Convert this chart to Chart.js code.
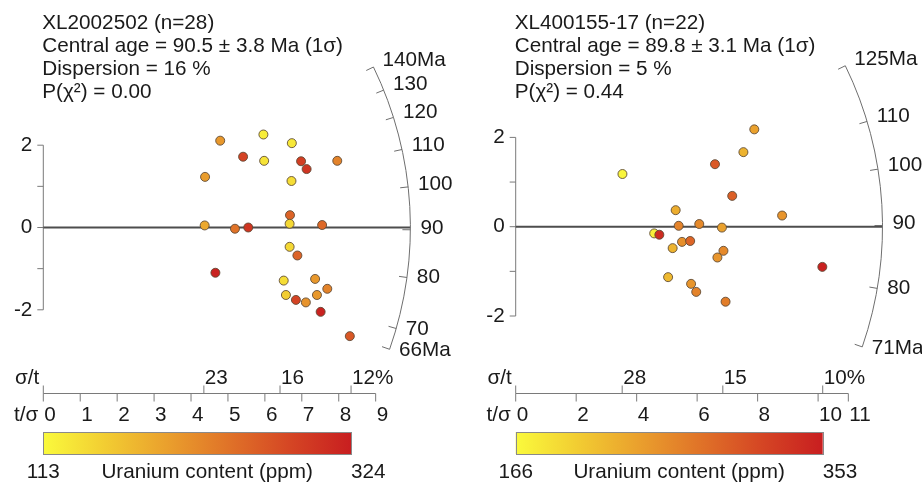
<!DOCTYPE html>
<html>
<head>
<meta charset="utf-8">
<script src="https://cdn.jsdelivr.net/npm/chart.js@4.4.0/dist/chart.umd.min.js"></script>
<style>
  html, body { margin: 0; padding: 0; background: #fff; }
  #wrap { display: flex; width: 922px; height: 485px; }
  canvas { display: block; }
</style>
</head>
<body>
<div id="wrap">
  <canvas id="left" width="461" height="485"></canvas>
  <canvas id="right" width="461" height="485"></canvas>
</div>
<script>
// --- sample XL2002502 ---
const leftTitle = ['XL2002502 (n=28)', 'Central age = 90.5 ± 3.8 Ma (1σ)', 'Dispersion = 16 %', 'P(χ²) = 0.00'];
const leftCentralAge = 90.5;
const leftPrecision = [5.96, 4.79, 6.73, 5.41, 5.98, 6.98, 7.96, 7.13, 4.38, 6.72, 6.68, 4.37, 6.67, 5.19,
  5.55, 7.55, 6.67, 6.88, 4.66, 6.51, 7.36, 7.69, 6.57, 7.41, 6.84, 7.11, 7.51, 8.30];
const leftStdEst = [2.26, 2.11, 2.05, 1.72, 1.62, 1.61, 1.62, 1.42, 1.23, 1.13, 0.30, 0.05, 0.09, -0.03,
  0.00, 0.06, -0.47, -0.68, -1.10, -1.29, -1.25, -1.49, -1.64, -1.64, -1.76, -1.82, -2.05, -2.64];
const leftUranium = [125, 205, 130, 285, 135, 290, 225, 300, 200, 140, 255, 190, 145, 240,
  300, 250, 145, 255, 320, 140, 205, 225, 155, 205, 285, 210, 320, 265];
const leftAgeTicks = [140, 130, 120, 110, 100, 90, 80, 70, 66];
const leftAgeLabels = ['140Ma', '130', '120', '110', '100', '90', '80', '70', '66Ma'];
const leftPrecTicks = [0, 1, 2, 3, 4, 5, 6, 7, 8, 9];
const leftRelErrTicks = [23, 15.6, 12];
const leftRelErrLabels = ['23', '16', '12%'];
const leftURange = [113, 324];

// --- sample XL400155-17 ---
const rightTitle = ['XL400155-17 (n=22)', 'Central age = 89.8 ± 3.1 Ma (1σ)', 'Dispersion = 5 %', 'P(χ²) = 0.44'];
const rightCentralAge = 89.8;
const rightPrecision = [7.89, 7.53, 6.59, 3.53, 7.16, 8.81, 5.29, 5.39, 6.07, 6.82, 4.58, 4.75, 5.50, 5.77,
  5.19, 6.87, 6.67, 10.14, 5.04, 5.80, 5.97, 6.94];
const rightStdEst = [2.18, 1.67, 1.40, 1.18, 0.69, 0.25, 0.37, 0.02, 0.06, -0.02, -0.15, -0.18, -0.34, -0.32,
  -0.48, -0.54, -0.69, -0.90, -1.13, -1.28, -1.46, -1.68];
const rightUranium = [240, 225, 300, 170, 295, 250, 230, 265, 260, 240, 175, 340, 255, 290,
  225, 260, 250, 350, 220, 250, 265, 270];
const rightAgeTicks = [125, 110, 100, 90, 80, 71];
const rightAgeLabels = ['125Ma', '110', '100', '90', '80', '71Ma'];
const rightPrecTicks = [0, 2, 4, 6, 8, 10, 11];
const rightRelErrTicks = [28.4, 14.6, 9.85];
const rightRelErrLabels = ['28', '15', '10%'];
const rightURange = [166, 353];

// shared standardised-estimate axis
const stdTicks = [-2, -1, 0, 1, 2];
const stdTickLabels = ['-2', '', '0', '', '2'];

const FONT = '20.7px "Liberation Sans", Arial, sans-serif';
const INK = '#1a1a1a';
const AXIS = '#7a7a7a';

// yellow -> red colour ramp for uranium content
const heatStops = [
  [0.00, [250, 250, 60]],
  [0.20, [242, 205, 50]],
  [0.40, [234, 160, 45]],
  [0.60, [224, 115, 40]],
  [0.80, [213, 70, 36]],
  [1.00, [200, 30, 32]]
];

function heatColor(u, range) {
  const f = Math.min(1, Math.max(0, (u - range[0]) / (range[1] - range[0])));
  for (let i = 1; i < heatStops.length; i++) {
    const [s1, c1] = heatStops[i];
    const [s0, c0] = heatStops[i - 1];
    if (f <= s1) {
      const t = (f - s0) / (s1 - s0);
      const c = c0.map((v, k) => Math.round(v + (c1[k] - v) * t));
      return `rgb(${c.join(',')})`;
    }
  }
  return 'rgb(200,30,32)';
}

// draws the radial-plot furniture (axes, age arc, header, colour bar)
function radialPlugin(p) {
  return {
    id: 'radial',
    beforeDatasetsDraw(chart) {
      const ctx = chart.ctx;
      const xs = chart.scales.x, ys = chart.scales.y;
      const ox = xs.getPixelForValue(0), oy = ys.getPixelForValue(0);
      const kx = xs.getPixelForValue(1) - ox;
      const R = xs.getPixelForValue(p.arcRadius) - ox;
      const ang = age => Math.atan2(ys.getPixelForValue(Math.log(age / p.centralAge)) - oy, kx);

      ctx.save();
      ctx.font = FONT;
      ctx.fillStyle = INK;
      ctx.textBaseline = 'middle';

      // header
      ctx.textAlign = 'left';
      p.title.forEach((t, i) => ctx.fillText(t, ox - 1, 23 + i * 23));

      // y axis bracket
      ctx.strokeStyle = AXIS;
      ctx.lineWidth = 1;
      ctx.beginPath();
      ctx.moveTo(ox, ys.getPixelForValue(stdTicks[stdTicks.length - 1]));
      ctx.lineTo(ox, ys.getPixelForValue(stdTicks[0]));
      stdTicks.forEach(v => {
        const py = ys.getPixelForValue(v);
        ctx.moveTo(ox - 6, py);
        ctx.lineTo(ox, py);
      });
      ctx.stroke();
      ctx.textAlign = 'right';
      stdTicks.forEach((v, i) => {
        if (stdTickLabels[i]) ctx.fillText(stdTickLabels[i], ox - 11, ys.getPixelForValue(v));
      });

      // precision (t/σ) and relative error (σ/t) axis
      const ay = 393.5;
      const xEnd = xs.getPixelForValue(p.precTicks[p.precTicks.length - 1]);
      ctx.beginPath();
      ctx.moveTo(ox, ay);
      ctx.lineTo(xEnd, ay);
      p.precTicks.forEach(v => {
        const px = xs.getPixelForValue(v);
        ctx.moveTo(px, ay);
        ctx.lineTo(px, ay + 8);
      });
      ctx.moveTo(ox, ay);
      ctx.lineTo(ox, ay - 8);
      p.relErrTicks.forEach(e => {
        const px = xs.getPixelForValue(100 / e);
        ctx.moveTo(px, ay);
        ctx.lineTo(px, ay - 8);
      });
      ctx.stroke();
      ctx.textAlign = 'left';
      p.precTicks.forEach(v => ctx.fillText(String(v), xs.getPixelForValue(v) + 1, 415));
      p.relErrTicks.forEach((e, i) => ctx.fillText(p.relErrLabels[i], xs.getPixelForValue(100 / e) + 1, 378));
      ctx.textAlign = 'right';
      ctx.fillText('σ/t', ox - 4, 378);
      ctx.fillText('t/σ', ox - 5, 415);

      // central line
      ctx.strokeStyle = '#4d4d4d';
      ctx.lineWidth = 2;
      ctx.beginPath();
      ctx.moveTo(ox, oy);
      ctx.lineTo(ox + R, oy);
      ctx.stroke();

      // age arc with inward ticks
      ctx.strokeStyle = '#6e6e6e';
      ctx.lineWidth = 1;
      ctx.beginPath();
      ctx.arc(ox, oy, R, ang(Math.max(...p.ageTicks)), ang(Math.min(...p.ageTicks)));
      p.ageTicks.forEach(t => {
        const a = ang(t);
        ctx.moveTo(ox + (R - 8) * Math.cos(a), oy + (R - 8) * Math.sin(a));
        ctx.lineTo(ox + R * Math.cos(a), oy + R * Math.sin(a));
      });
      ctx.stroke();
      ctx.textAlign = 'left';
      p.ageTicks.forEach((t, i) => {
        const a = ang(t);
        ctx.fillText(p.ageLabels[i], ox + (R + 10) * Math.cos(a), oy + (R + 10) * Math.sin(a) - 2);
      });

      // colour bar
      const bx0 = ox;
      const bx1 = xs.getPixelForValue(100 / p.relErrTicks[p.relErrTicks.length - 1]);
      const g = ctx.createLinearGradient(bx0, 0, bx1, 0);
      heatStops.forEach(([s, c]) => g.addColorStop(s, `rgb(${c.join(',')})`));
      ctx.fillStyle = g;
      ctx.fillRect(bx0, 432, bx1 - bx0, 22);
      ctx.strokeStyle = '#8a8a8a';
      ctx.strokeRect(Math.round(bx0) + 0.5, 432.5, Math.round(bx1 - bx0), 22);
      ctx.fillStyle = INK;
      ctx.textAlign = 'center';
      ctx.fillText(String(p.uRange[0]), bx0, 472);
      ctx.fillText('Uranium content (ppm)', (bx0 + bx1) / 2 + 10, 472);
      ctx.textAlign = 'left';
      ctx.fillText(String(p.uRange[1]), bx1, 472);

      ctx.restore();
    }
  };
}

function radialChart(id, p, geo) {
  const W = 461, H = 485;
  const points = p.precision.map((x, i) => ({ x, y: p.stdEst[i] }));
  return new Chart(document.getElementById(id), {
    type: 'scatter',
    data: {
      datasets: [{
        data: points,
        backgroundColor: p.uranium.map(u => heatColor(u, p.uRange)),
        borderColor: 'rgba(90, 70, 50, 0.85)',
        borderWidth: 1,
        pointRadius: 4.5,
        pointHoverRadius: 4.5
      }]
    },
    options: {
      responsive: false,
      animation: false,
      events: [],
      layout: {
        padding: {
          left: geo.ox,
          right: W - (geo.ox + geo.xMax * geo.kx),
          top: geo.oy - geo.yMax * geo.ky,
          bottom: H - (geo.oy + geo.yMax * geo.ky)
        }
      },
      plugins: { legend: { display: false }, tooltip: { enabled: false } },
      scales: {
        x: { type: 'linear', display: false, min: 0, max: geo.xMax },
        y: { type: 'linear', display: false, min: -geo.yMax, max: geo.yMax }
      }
    },
    plugins: [radialPlugin(p)]
  });
}

radialChart('left', {
  title: leftTitle, centralAge: leftCentralAge, precision: leftPrecision, stdEst: leftStdEst,
  uranium: leftUranium, ageTicks: leftAgeTicks, ageLabels: leftAgeLabels, precTicks: leftPrecTicks,
  relErrTicks: leftRelErrTicks, relErrLabels: leftRelErrLabels, uRange: leftURange, arcRadius: 9.94
}, { ox: 43.3, oy: 227.5, kx: 36.93, ky: 41.15, xMax: 11, yMax: 4 });

radialChart('right', {
  title: rightTitle, centralAge: rightCentralAge, precision: rightPrecision, stdEst: rightStdEst,
  uranium: rightUranium, ageTicks: rightAgeTicks, ageLabels: rightAgeLabels, precTicks: rightPrecTicks,
  relErrTicks: rightRelErrTicks, relErrLabels: rightRelErrLabels, uRange: rightURange, arcRadius: 12.13
}, { ox: 54.7, oy: 226.7, kx: 30.24, ky: 44.65, xMax: 13, yMax: 3.5 });
</script>
</body>
</html>
